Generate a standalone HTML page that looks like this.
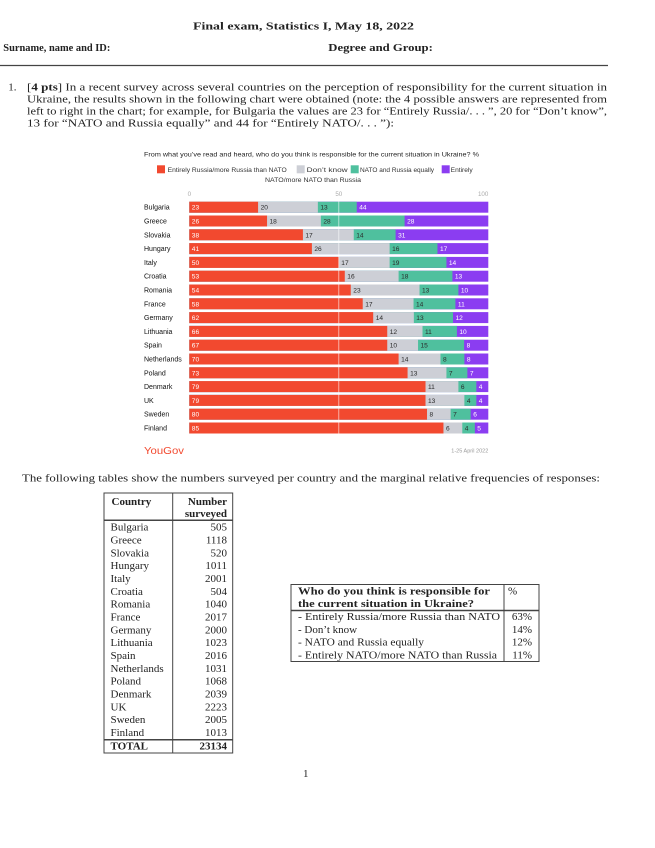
<!DOCTYPE html>
<html>
<head>
<meta charset="utf-8">
<style>
  html,body{margin:0;padding:0;background:#fff;}
  svg{display:block;}
  .tx{font-family:"Liberation Serif",serif;font-size:11px;fill:#222;}
  .b{font-weight:bold;}
  .cs{font-family:"Liberation Sans",sans-serif;}
  .cl{font-family:"Liberation Sans",sans-serif;font-size:7px;fill:#111;}
  .lw{font-family:"Liberation Sans",sans-serif;font-size:6.6px;fill:#fff;}
  .ld{font-family:"Liberation Sans",sans-serif;font-size:6.6px;fill:#2a2a2a;}
  .R{fill:#F2492F;} .Y{fill:#CDCFD6;} .G{fill:#4FC09E;} .P{fill:#8B3DF1;}
  .ln{stroke:#444;stroke-width:1;fill:none;}
  .lt{stroke:#444;stroke-width:1.5;}
</style>
</head>
<body>
<svg width="655" height="848" viewBox="0 0 655 848" xmlns="http://www.w3.org/2000/svg">
  <rect width="655" height="848" fill="#fff"/>

  <!-- Header -->
  <text class="tx b" x="193" y="29.5" font-size="12.5" textLength="221" lengthAdjust="spacingAndGlyphs">Final exam, Statistics I, May 18, 2022</text>
  <text class="tx b" x="3.3" y="51" textLength="107" lengthAdjust="spacingAndGlyphs">Surname, name and ID:</text>
  <text class="tx b" x="328.3" y="51" textLength="104.5" lengthAdjust="spacingAndGlyphs">Degree and Group:</text>
  <line x1="0" y1="65.5" x2="608" y2="65.5" stroke="#444" stroke-width="1.3"/>

  <!-- Question paragraph -->
  <text class="tx" x="8.3" y="90.5">1.</text>
  <text class="tx" x="27" y="90.5" textLength="580" lengthAdjust="spacingAndGlyphs">[<tspan class="b">4 pts</tspan>] In a recent survey across several countries on the perception of responsibility for the current situation in</text>
  <text class="tx" x="27" y="102.5" textLength="580" lengthAdjust="spacingAndGlyphs">Ukraine, the results shown in the following chart were obtained (note: the 4 possible answers are represented from</text>
  <text class="tx" x="27" y="114.5" textLength="580" lengthAdjust="spacingAndGlyphs">left to right in the chart; for example, for Bulgaria the values are 23 for “Entirely Russia/. . . ”, 20 for “Don’t know”,</text>
  <text class="tx" x="27" y="126.5" textLength="367" lengthAdjust="spacingAndGlyphs">13 for “NATO and Russia equally” and 44 for “Entirely NATO/. . . ”):</text>

  <!-- Chart title & legend -->
  <text class="cs" x="144" y="156.6" font-size="6.8" fill="#222" textLength="335" lengthAdjust="spacingAndGlyphs">From what you’ve read and heard, who do you think is responsible for the current situation in Ukraine? %</text>
  <rect class="R" x="157" y="165.3" width="8" height="8"/>
  <text class="cs" x="167.7" y="171.8" font-size="6.4" fill="#333" textLength="119" lengthAdjust="spacingAndGlyphs">Entirely Russia/more Russia than NATO</text>
  <rect class="Y" x="296.7" y="165.3" width="8" height="8"/>
  <text class="cs" x="306.7" y="171.8" font-size="6.4" fill="#333" textLength="41" lengthAdjust="spacingAndGlyphs">Don’t know</text>
  <rect class="G" x="350.7" y="165.3" width="8" height="8"/>
  <text class="cs" x="360" y="171.8" font-size="6.4" fill="#333" textLength="74" lengthAdjust="spacingAndGlyphs">NATO and Russia equally</text>
  <rect class="P" x="441.7" y="165.3" width="8" height="8"/>
  <text class="cs" x="450.7" y="171.8" font-size="6.4" fill="#333" textLength="22" lengthAdjust="spacingAndGlyphs">Entirely</text>
  <text class="cs" x="265" y="181.8" font-size="6.4" fill="#333" textLength="96" lengthAdjust="spacingAndGlyphs">NATO/more NATO than Russia</text>

  <!-- Axis labels -->
  <text class="cs" x="189.3" y="196.2" font-size="6.2" fill="#aaa" text-anchor="middle">0</text>
  <text class="cs" x="338.8" y="196.2" font-size="6.2" fill="#aaa" text-anchor="middle">50</text>
  <text class="cs" x="488.3" y="196.2" font-size="6.2" fill="#aaa" text-anchor="end">100</text>

  <!-- Bars -->
  <g transform="translate(0,201.7)">
    <text class="cl" x="144" y="8">Bulgaria</text>
    <rect class="P" x="189.3" width="299" height="11"/><rect class="G" x="189.3" width="167.44" height="11"/><rect class="Y" x="189.3" width="128.57" height="11"/><rect class="R" x="189.3" width="68.77" height="11"/>
    <text class="lw" x="191.8" y="8">23</text><text class="ld" x="260.6" y="8">20</text><text class="ld" x="320.4" y="8">13</text><text class="lw" x="359.2" y="8">44</text>
  </g>
  <g transform="translate(0,215.5)">
    <text class="cl" x="144" y="8">Greece</text>
    <rect class="P" x="189.3" width="299" height="11"/><rect class="G" x="189.3" width="215.28" height="11"/><rect class="Y" x="189.3" width="131.56" height="11"/><rect class="R" x="189.3" width="77.74" height="11"/>
    <text class="lw" x="191.8" y="8">26</text><text class="ld" x="269.5" y="8">18</text><text class="ld" x="323.4" y="8">28</text><text class="lw" x="407.1" y="8">28</text>
  </g>
  <g transform="translate(0,229.3)">
    <text class="cl" x="144" y="8">Slovakia</text>
    <rect class="P" x="189.3" width="299" height="11"/><rect class="G" x="189.3" width="206.31" height="11"/><rect class="Y" x="189.3" width="164.45" height="11"/><rect class="R" x="189.3" width="113.62" height="11"/>
    <text class="lw" x="191.8" y="8">38</text><text class="ld" x="305.4" y="8">17</text><text class="ld" x="356.2" y="8">14</text><text class="lw" x="398.1" y="8">31</text>
  </g>
  <g transform="translate(0,243.1)">
    <text class="cl" x="144" y="8">Hungary</text>
    <rect class="P" x="189.3" width="299" height="11"/><rect class="G" x="189.3" width="248.17" height="11"/><rect class="Y" x="189.3" width="200.33" height="11"/><rect class="R" x="189.3" width="122.59" height="11"/>
    <text class="lw" x="191.8" y="8">41</text><text class="ld" x="314.4" y="8">26</text><text class="ld" x="392.1" y="8">16</text><text class="lw" x="440" y="8">17</text>
  </g>
  <g transform="translate(0,256.9)">
    <text class="cl" x="144" y="8">Italy</text>
    <rect class="P" x="189.3" width="299" height="11"/><rect class="G" x="189.3" width="257.14" height="11"/><rect class="Y" x="189.3" width="200.33" height="11"/><rect class="R" x="189.3" width="149.5" height="11"/>
    <text class="lw" x="191.8" y="8">50</text><text class="ld" x="341.3" y="8">17</text><text class="ld" x="392.1" y="8">19</text><text class="lw" x="448.9" y="8">14</text>
  </g>
  <g transform="translate(0,270.7)">
    <text class="cl" x="144" y="8">Croatia</text>
    <rect class="P" x="189.3" width="299" height="11"/><rect class="G" x="189.3" width="263.12" height="11"/><rect class="Y" x="189.3" width="209.3" height="11"/><rect class="R" x="189.3" width="155.48" height="11"/>
    <text class="lw" x="191.8" y="8">53</text><text class="ld" x="347.3" y="8">16</text><text class="ld" x="401.1" y="8">18</text><text class="lw" x="454.9" y="8">13</text>
  </g>
  <g transform="translate(0,284.5)">
    <text class="cl" x="144" y="8">Romania</text>
    <rect class="P" x="189.3" width="299" height="11"/><rect class="G" x="189.3" width="269.1" height="11"/><rect class="Y" x="189.3" width="230.23" height="11"/><rect class="R" x="189.3" width="161.46" height="11"/>
    <text class="lw" x="191.8" y="8">54</text><text class="ld" x="353.3" y="8">23</text><text class="ld" x="422" y="8">13</text><text class="lw" x="460.9" y="8">10</text>
  </g>
  <g transform="translate(0,298.3)">
    <text class="cl" x="144" y="8">France</text>
    <rect class="P" x="189.3" width="299" height="11"/><rect class="G" x="189.3" width="266.11" height="11"/><rect class="Y" x="189.3" width="224.25" height="11"/><rect class="R" x="189.3" width="173.42" height="11"/>
    <text class="lw" x="191.8" y="8">58</text><text class="ld" x="365.2" y="8">17</text><text class="ld" x="416" y="8">14</text><text class="lw" x="457.9" y="8">11</text>
  </g>
  <g transform="translate(0,312.1)">
    <text class="cl" x="144" y="8">Germany</text>
    <rect class="P" x="189.3" width="299" height="11"/><rect class="G" x="189.3" width="263.72" height="11"/><rect class="Y" x="189.3" width="224.55" height="11"/><rect class="R" x="189.3" width="183.89" height="11"/>
    <text class="lw" x="191.8" y="8">62</text><text class="ld" x="375.7" y="8">14</text><text class="ld" x="416.3" y="8">13</text><text class="lw" x="455.5" y="8">12</text>
  </g>
  <g transform="translate(0,325.9)">
    <text class="cl" x="144" y="8">Lithuania</text>
    <rect class="P" x="189.3" width="299" height="11"/><rect class="G" x="189.3" width="267.61" height="11"/><rect class="Y" x="189.3" width="233.22" height="11"/><rect class="R" x="189.3" width="197.94" height="11"/>
    <text class="lw" x="191.8" y="8">66</text><text class="ld" x="389.7" y="8">12</text><text class="ld" x="425" y="8">11</text><text class="lw" x="459.4" y="8">10</text>
  </g>
  <g transform="translate(0,339.7)">
    <text class="cl" x="144" y="8">Spain</text>
    <rect class="P" x="189.3" width="299" height="11"/><rect class="G" x="189.3" width="274.78" height="11"/><rect class="Y" x="189.3" width="228.74" height="11"/><rect class="R" x="189.3" width="197.94" height="11"/>
    <text class="lw" x="191.8" y="8">67</text><text class="ld" x="389.7" y="8">10</text><text class="ld" x="420.5" y="8">15</text><text class="lw" x="466.6" y="8">8</text>
  </g>
  <g transform="translate(0,353.5)">
    <text class="cl" x="144" y="8">Netherlands</text>
    <rect class="P" x="189.3" width="299" height="11"/><rect class="G" x="189.3" width="275.08" height="11"/><rect class="Y" x="189.3" width="251.16" height="11"/><rect class="R" x="189.3" width="209.3" height="11"/>
    <text class="lw" x="191.8" y="8">70</text><text class="ld" x="401.1" y="8">14</text><text class="ld" x="443" y="8">8</text><text class="lw" x="466.9" y="8">8</text>
  </g>
  <g transform="translate(0,367.3)">
    <text class="cl" x="144" y="8">Poland</text>
    <rect class="P" x="189.3" width="299" height="11"/><rect class="G" x="189.3" width="278.07" height="11"/><rect class="Y" x="189.3" width="257.14" height="11"/><rect class="R" x="189.3" width="218.27" height="11"/>
    <text class="lw" x="191.8" y="8">73</text><text class="ld" x="410.1" y="8">13</text><text class="ld" x="448.9" y="8">7</text><text class="lw" x="469.9" y="8">7</text>
  </g>
  <g transform="translate(0,381.1)">
    <text class="cl" x="144" y="8">Denmark</text>
    <rect class="P" x="189.3" width="299" height="11"/><rect class="G" x="189.3" width="287.04" height="11"/><rect class="Y" x="189.3" width="269.1" height="11"/><rect class="R" x="189.3" width="236.21" height="11"/>
    <text class="lw" x="191.8" y="8">79</text><text class="ld" x="428" y="8">11</text><text class="ld" x="460.9" y="8">6</text><text class="lw" x="478.8" y="8">4</text>
  </g>
  <g transform="translate(0,394.9)">
    <text class="cl" x="144" y="8">UK</text>
    <rect class="P" x="189.3" width="299" height="11"/><rect class="G" x="189.3" width="287.04" height="11"/><rect class="Y" x="189.3" width="275.08" height="11"/><rect class="R" x="189.3" width="236.21" height="11"/>
    <text class="lw" x="191.8" y="8">79</text><text class="ld" x="428" y="8">13</text><text class="ld" x="466.9" y="8">4</text><text class="lw" x="478.8" y="8">4</text>
  </g>
  <g transform="translate(0,408.7)">
    <text class="cl" x="144" y="8">Sweden</text>
    <rect class="P" x="189.3" width="299" height="11"/><rect class="G" x="189.3" width="281.36" height="11"/><rect class="Y" x="189.3" width="261.33" height="11"/><rect class="R" x="189.3" width="237.71" height="11"/>
    <text class="lw" x="191.8" y="8">80</text><text class="ld" x="429.5" y="8">8</text><text class="ld" x="453.1" y="8">7</text><text class="lw" x="473.2" y="8">6</text>
  </g>
  <g transform="translate(0,422.5)">
    <text class="cl" x="144" y="8">Finland</text>
    <rect class="P" x="189.3" width="299" height="11"/><rect class="G" x="189.3" width="285.55" height="11"/><rect class="Y" x="189.3" width="272.99" height="11"/><rect class="R" x="189.3" width="254.15" height="11"/>
    <text class="lw" x="191.8" y="8">85</text><text class="ld" x="446" y="8">6</text><text class="ld" x="464.8" y="8">4</text><text class="lw" x="477.3" y="8">5</text>
  </g>
  <line x1="338.8" y1="200" x2="338.8" y2="434.5" stroke="#fff" stroke-width="0.8" stroke-opacity="0.7"/>

  <!-- YouGov footer -->
  <text class="cs" x="144" y="454" font-size="10.5" fill="#F2492F" textLength="40" lengthAdjust="spacingAndGlyphs">YouGov</text>
  <text class="cs" x="488.3" y="452.5" font-size="5.5" fill="#999" text-anchor="end">1-25 April 2022</text>

  <!-- Tables intro -->
  <text class="tx" x="22" y="481.5" textLength="578" lengthAdjust="spacingAndGlyphs">The following tables show the numbers surveyed per country and the marginal relative frequencies of responses:</text>

  <!-- Table 1 -->
  <rect class="ln" x="104" y="493" width="128.7" height="260"/>
  <line class="ln" x1="172.7" y1="493" x2="172.7" y2="753"/>
  <line class="lt" x1="104" y1="520.2" x2="232.7" y2="520.2"/>
  <line class="lt" x1="104" y1="739.8" x2="232.7" y2="739.8"/>
  <text class="tx b" x="111.5" y="505">Country</text>
  <text class="tx b" x="227" y="505" text-anchor="end">Number</text>
  <text class="tx b" x="227" y="517" text-anchor="end">surveyed</text>
  <g class="tx" fill="#333">
    <text x="110.5" y="530.6">Bulgaria</text><text x="227" y="530.6" text-anchor="end">505</text>
    <text x="110.5" y="543.4">Greece</text><text x="227" y="543.4" text-anchor="end">1118</text>
    <text x="110.5" y="556.3">Slovakia</text><text x="227" y="556.3" text-anchor="end">520</text>
    <text x="110.5" y="569.1">Hungary</text><text x="227" y="569.1" text-anchor="end">1011</text>
    <text x="110.5" y="581.9">Italy</text><text x="227" y="581.9" text-anchor="end">2001</text>
    <text x="110.5" y="594.8">Croatia</text><text x="227" y="594.8" text-anchor="end">504</text>
    <text x="110.5" y="607.6">Romania</text><text x="227" y="607.6" text-anchor="end">1040</text>
    <text x="110.5" y="620.4">France</text><text x="227" y="620.4" text-anchor="end">2017</text>
    <text x="110.5" y="633.3">Germany</text><text x="227" y="633.3" text-anchor="end">2000</text>
    <text x="110.5" y="646.1">Lithuania</text><text x="227" y="646.1" text-anchor="end">1023</text>
    <text x="110.5" y="658.9">Spain</text><text x="227" y="658.9" text-anchor="end">2016</text>
    <text x="110.5" y="671.8">Netherlands</text><text x="227" y="671.8" text-anchor="end">1031</text>
    <text x="110.5" y="684.6">Poland</text><text x="227" y="684.6" text-anchor="end">1068</text>
    <text x="110.5" y="697.4">Denmark</text><text x="227" y="697.4" text-anchor="end">2039</text>
    <text x="110.5" y="710.3">UK</text><text x="227" y="710.3" text-anchor="end">2223</text>
    <text x="110.5" y="723.1">Sweden</text><text x="227" y="723.1" text-anchor="end">2005</text>
    <text x="110.5" y="735.9">Finland</text><text x="227" y="735.9" text-anchor="end">1013</text>
  </g>
  <text class="tx b" x="110.5" y="749.5">TOTAL</text>
  <text class="tx b" x="227" y="749.5" text-anchor="end">23134</text>

  <!-- Table 2 -->
  <rect class="ln" x="291" y="584.5" width="248" height="77"/>
  <line class="ln" x1="504" y1="584.5" x2="504" y2="661.5"/>
  <line class="lt" x1="291" y1="610.5" x2="539" y2="610.5"/>
  <text class="tx b" x="298" y="594.5" textLength="192" lengthAdjust="spacingAndGlyphs">Who do you think is responsible for</text>
  <text class="tx b" x="298" y="607" textLength="176" lengthAdjust="spacingAndGlyphs">the current situation in Ukraine?</text>
  <text class="tx" x="508" y="594.5">%</text>
  <g class="tx" fill="#333">
  <text x="298" y="620" textLength="202" lengthAdjust="spacingAndGlyphs">- Entirely Russia/more Russia than NATO</text>
  <text x="298" y="632.8">- Don’t know</text>
  <text x="298" y="645.6" textLength="126" lengthAdjust="spacingAndGlyphs">- NATO and Russia equally</text>
  <text x="298" y="658.4" textLength="199" lengthAdjust="spacingAndGlyphs">- Entirely NATO/more NATO than Russia</text>
  <text x="532" y="620" text-anchor="end">63%</text>
  <text x="532" y="632.8" text-anchor="end">14%</text>
  <text x="532" y="645.6" text-anchor="end">12%</text>
  <text x="532" y="658.4" text-anchor="end">11%</text>
  </g>

  <!-- Page number -->
  <text class="tx" x="303" y="777">1</text>
</svg>
</body>
</html>
